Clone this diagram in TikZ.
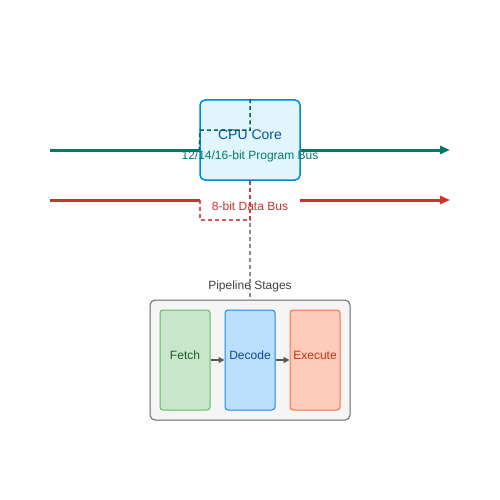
\documentclass[tikz,border=0pt]{standalone}
\usepackage{fontspec}
\setmainfont{Liberation Sans}
\usetikzlibrary{arrows.meta}
\definecolor{teal1}{HTML}{00796B}
\definecolor{red1}{HTML}{D32F2F}
\definecolor{cpufill}{HTML}{E1F5FE}
\definecolor{cpustroke}{HTML}{0288D1}
\definecolor{cputext}{HTML}{01579B}
\definecolor{grpfill}{HTML}{F5F5F5}
\definecolor{grpstroke}{HTML}{666666}
\definecolor{fetchfill}{HTML}{C8E6C9}
\definecolor{fetchstroke}{HTML}{66BB6A}
\definecolor{fetchtext}{HTML}{1B5E20}
\definecolor{decfill}{HTML}{BBDEFB}
\definecolor{decstroke}{HTML}{1E88E5}
\definecolor{dectext}{HTML}{0D47A1}
\definecolor{exfill}{HTML}{FFCCBC}
\definecolor{exstroke}{HTML}{FF7043}
\definecolor{extext}{HTML}{BF360C}
\tikzset{
  bus/.style={line width=3pt},
  busarrow/.style={-{Triangle[length=10pt,width=8pt]}},
  stagebox/.style={draw, line width=1pt, rounded corners=3pt, minimum width=50pt, minimum height=100pt, inner sep=0pt},
  stagearrow/.style={draw=black!65, line width=1.5pt, -{Triangle[length=6pt,width=6pt]}},
  lbl/.style={inner sep=0pt, font=\fontsize{12}{14}\selectfont},
}
\begin{document}
\begin{tikzpicture}[x=1pt,y=-1pt]
\useasboundingbox (0,0) rectangle (500,500);
% bus coordinates
\coordinate (pbL) at (50,150);
\coordinate (pbR) at (450,150);
\coordinate (dbL) at (50,200);
\coordinate (dbR) at (450,200);
\coordinate (dbM) at (300,200);
\coordinate (dbK) at (200,200);
% pipeline group
\node[draw=grpstroke, fill=grpfill, line width=1pt, rounded corners=5pt, minimum width=200pt, minimum height=120pt, inner sep=0pt] (grp) at (250,360) {};
\node[lbl, text=black!75] (grplbl) at (250,286) {Pipeline Stages};
% program bus
\draw[bus, teal1, busarrow] (pbL) -- (pbR);
% data bus
\draw[bus, red1] (dbL) -- (dbK);
\draw[bus, red1, busarrow] (dbM) -- (dbR);
% CPU core
\node[draw=cpustroke, fill=cpufill, line width=1.5pt, rounded corners=5pt, minimum width=100pt, minimum height=80pt, inner sep=0pt] (cpu) at (250,140) {};
\node[inner sep=0pt, text=cputext, font=\fontsize{14}{16}\selectfont] (cpulbl) at (250,135) {CPU Core};
% teal dashed link
\draw[teal1!80!black, line width=1.5pt, dash pattern=on 4pt off 3pt] (cpu.north) -- (250,130) -- (200,130) -- (pbL -| cpu.west);
% gray dashed to pipeline
\draw[black!45, line width=1.5pt, dash pattern=on 4pt off 3pt] (cpu.south) -- (grp.north);
% red dashed link
\draw[red1, opacity=0.8, line width=1.5pt, dash pattern=on 4pt off 3pt] (dbK) -- (200,220) -- (250,220) -- (cpu.south);
% bus labels
\node[lbl, text=teal1] (pblbl) at (250,156) {12/14/16-bit Program Bus};
\node[lbl, text=red1] (dblbl) at (250,206) {8-bit Data Bus};
% stages
\node[stagebox, draw=fetchstroke, fill=fetchfill] (fetch) at (185,360) {};
\node[stagebox, draw=decstroke, fill=decfill] (decode) at (250,360) {};
\node[stagebox, draw=exstroke, fill=exfill] (execute) at (315,360) {};
\node[lbl, text=fetchtext] (fetchlbl) at (185,355) {Fetch};
\node[lbl, text=dectext] (decodelbl) at (250,355) {Decode};
\node[lbl, text=extext] (executelbl) at (315,355) {Execute};
\draw[stagearrow] (fetch.east) -- (decode.west);
\draw[stagearrow] (decode.east) -- (execute.west);
\end{tikzpicture}
\end{document}
